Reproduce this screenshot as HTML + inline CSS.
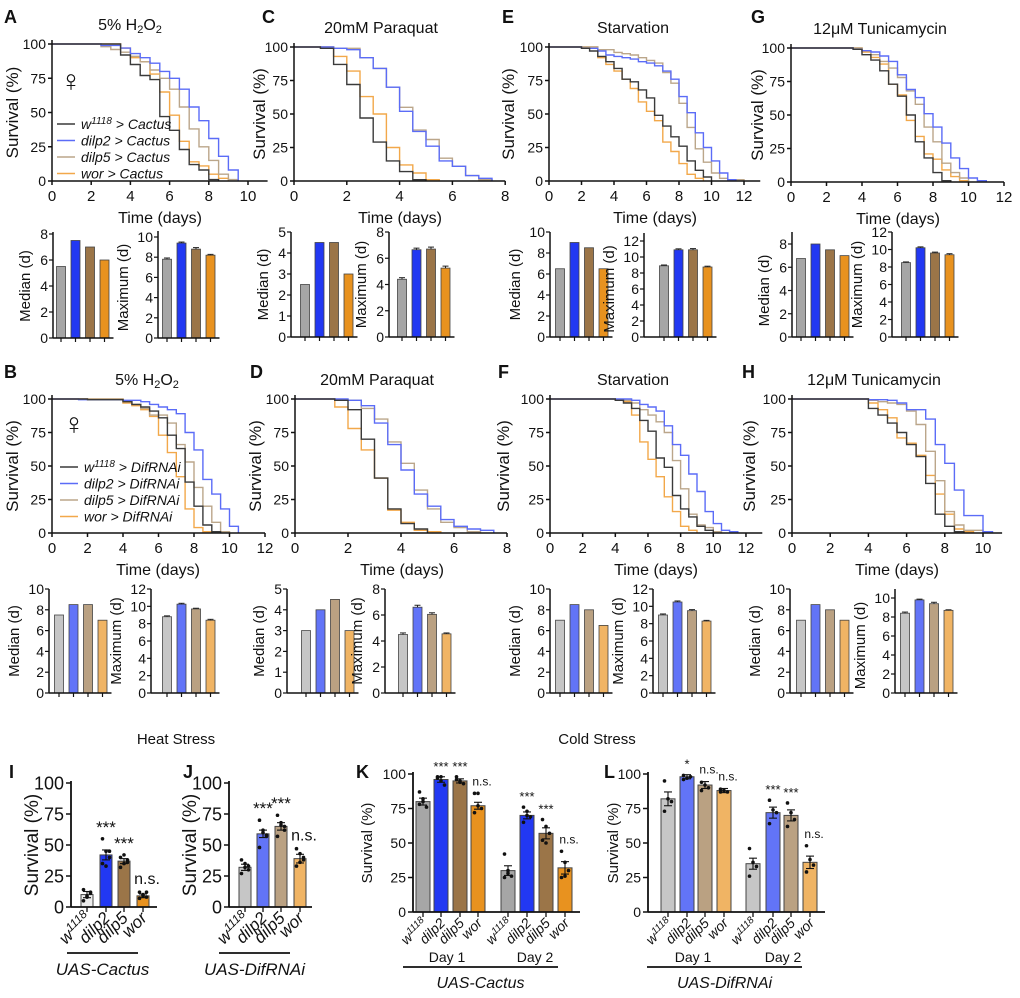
<!DOCTYPE html>
<html><head><meta charset="utf-8"><style>
html,body{margin:0;padding:0;background:#fff;}
svg{display:block;font-family:"Liberation Sans",sans-serif;}
</style></head><body>
<svg id="fig" width="1020" height="998" viewBox="0 0 1020 998" xmlns="http://www.w3.org/2000/svg"></svg>
<script>
// ===== Survival curve data (time in days, survival %) =====
const A_w_t=[0,3.5,4,4.5,5,5.5,6,6.5,7,7.5,8,8.5];
const A_w_s=[100,92,85,77,74,47,37,23,12,8,1,0];
const A_d2_t=[0,2.5,3.5,4,4.5,5,5.5,6,6.5,7,7.5,8,8.5,9,9.5];
const A_d2_s=[100,99,97,93,90,86,80,75,67,54,44,31,18,8,0];
const A_d5_t=[0,2.5,3,3.5,4,4.5,5,5.5,6,6.5,7,7.5,8,8.5,9,9.5];
const A_d5_s=[100,98,96,94,91,87,81,75,67,54,38,25,15,5,1,0];
const A_wo_t=[0,3.5,4,4.5,5,5.5,6,6.5,7,7.5,8,8.5,9];
const A_wo_s=[100,97,90,87,78,65,48,29,14,11,5,2,0];

const C_w_t=[0,1,1.5,2,2.5,3,3.5,4,4.5,5];
const C_w_s=[100,99,87,72,47,29,15,7,1,0];
const C_d2_t=[0,1.5,2,2.5,3,3.5,4,4.5,5,5.5,6,6.5,7,7.5];
const C_d2_s=[100,99,98,92,84,70,52,37,26,15,11,4,2,0];
const C_d5_t=[0,1.5,2.5,3,3.5,4,4.5,5,5.5,6,6.5,7,7.5];
const C_d5_s=[100,99,92,84,70,55,38,31,17,11,4,1,0];
const C_wo_t=[0,1.5,2,2.5,3,3.5,4,4.5,5,5.5];
const C_wo_s=[100,93,82,63,50,25,12,6,1,0];

const E_w_t=[0,2,2.5,3,3.5,4,4.5,5,5.5,6,6.5,7,7.5,8,8.5,9,9.5,10];
const E_w_s=[100,99,97,93,89,84,76,74,68,62,49,41,33,26,15,8,3,0];
const E_d2_t=[0,2,3,3.5,4,4.5,5,5.5,6,6.5,7,7.5,8,8.5,9,9.5,10,10.5,11,11.5];
const E_d2_s=[100,99,97,94,93,92,91,89,88,86,82,76,63,51,36,25,15,6,1,0];
const E_d5_t=[0,3,4,4.5,5,5.5,6,6.5,7,7.5,8,8.5,9,9.5,10,10.5,11,12];
const E_d5_s=[100,98,96,95,94,92,90,88,81,73,58,40,24,14,6,2,1,0];
const E_wo_t=[0,3,3.5,4,4.5,5,5.5,6,6.5,7,7.5,8,8.5,9,9.5];
const E_wo_s=[100,92,87,82,76,69,59,52,45,29,22,13,5,2,0];

const G_w_t=[0,3.5,4,4.5,5,5.5,6,6.5,7,7.5,8,8.5,9];
const G_w_s=[100,99,95,91,83,73,64,50,30,18,7,1,0];
const G_d2_t=[0,3.5,4,4.5,5,5.5,6,6.5,7,7.5,8,8.5,9,9.5,10,10.5,11];
const G_d2_s=[100,99,98,97,94,90,80,69,63,51,41,29,18,10,3,1,0];
const G_d5_t=[0,4,4.5,5,5.5,6,6.5,7,7.5,8,8.5,9,9.5,10];
const G_d5_s=[100,98,95,90,85,78,68,58,41,30,14,7,3,0];
const G_wo_t=[0,4,4.5,5,5.5,6,6.5,7,7.5,8,8.5,9,9.5,10];
const G_wo_s=[100,97,93,88,73,65,46,34,21,17,9,4,1,0];

const B_w_t=[0,2,4,4.5,5,5.5,6,6.5,7,7.5,8,8.5,9,9.5];
const B_w_s=[100,99.5,98,96,94,91,86,73,63,38,20,6,1,0];
const B_d2_t=[0,1.5,4,5,5.5,6,6.5,7,7.5,8,8.5,9,9.5,10,10.5];
const B_d2_s=[100,99.5,99,98,96,94,92,89,75,62,40,29,18,5,0];
const B_d5_t=[0,4,4.5,5,5.5,6,6.5,7,7.5,8,8.5,9,9.5,10];
const B_d5_s=[100,98,96,93,88,88,82,66,53,34,20,8,1,0];
const B_wo_t=[0,4,4.5,5,5.5,6,6.5,7,7.5,8,8.5,9];
const B_wo_s=[100,97,95,92,87,73,60,42,18,4,1,0];

const D_w_t=[0,1.5,2,2.5,3,3.5,4,4.5,5];
const D_w_s=[100,99,92,70,41,18,7,3,0];
const D_d2_t=[0,2,2.5,3,3.5,4,4.5,5,5.5,6,6.5,7,7.5];
const D_d2_s=[100,99,95,82,66,47,29,20,10,5,3,2,0];
const D_d5_t=[0,1.5,2.5,3,3.5,4,4.5,5,5.5,6,6.5,7];
const D_d5_s=[100,99,93,85,68,52,32,18,8,4,1,0];
const D_wo_t=[0,1.5,2,2.5,3,3.5,4,4.5,5,5.5];
const D_wo_s=[100,94,78,62,41,17,8,2,1,0];

const F_w_t=[0,4,4.5,5,5.5,6,6.5,7,7.5,8,8.5,9,9.5,10];
const F_w_s=[100,99,97,93,84,76,56,49,28,18,12,5,2,0];
const F_d2_t=[0,5,5.5,6,6.5,7,7.5,8,8.5,9,9.5,10,10.5,11,11.5];
const F_d2_s=[100,99,96,94,91,80,66,58,44,31,16,7,2,1,0];
const F_d5_t=[0,4,5,5.5,6,6.5,7,7.5,8,8.5,9,9.5,10,10.5];
const F_d5_s=[100,99,97,92,88,83,75,54,33,14,6,4,1,0];
const F_wo_t=[0,4,4.5,5,5.5,6,6.5,7,7.5,8,8.5,9];
const F_wo_s=[100,99,98,88,68,55,42,27,16,5,2,0];

const H_w_t=[0,4,4.5,5,5.5,6,6.5,7,7.5,8,8.5,9];
const H_w_s=[100,93,88,82,75,66,57,37,14,5,1,0];
const H_d2_t=[0,4,5,5.5,6,6.5,7,7.5,8,8.5,9,10,10.5];
const H_d2_s=[100,99.5,99,97,92,92,85,66,52,32,13,1,0];
const H_d5_t=[0,4,4.5,5,5.5,6,6.5,7,7.5,8,8.5,9,10];
const H_d5_s=[100,99,98,97,96,91,81,61,39,16,6,2,0];
const H_wo_t=[0,4,4.5,5,5.5,6,6.5,7,7.5,8,8.5,9,9.5];
const H_wo_s=[100,97,92,86,71,67,58,43,29,14,3,1,0];

// ===== Median / Maximum lifespan bars (days) =====
const A_median=[5.5,7.5,7,6];   const A_max=[7.8,9.4,8.8,8.2];   const A_maxErr=[0.12,0.1,0.15,0.08];
const C_median=[2.5,4.5,4.5,3]; const C_max=[4.4,6.65,6.7,5.25]; const C_maxErr=[0.12,0.12,0.15,0.15];
const E_median=[6.5,9,8.5,6.5]; const E_max=[8.9,10.9,10.9,8.75]; const E_maxErr=[0.1,0.12,0.15,0.1];
const G_median=[6.75,8,7.5,7];  const G_max=[8.5,10.2,9.6,9.4];  const G_maxErr=[0.08,0.1,0.1,0.12];
const B_median=[7.5,8.5,8.5,7]; const B_max=[8.8,10.25,9.7,8.4]; const B_maxErr=[0.1,0.1,0.08,0.1];
const D_median=[3,4,4.5,3];     const D_max=[4.5,6.6,6.05,4.55]; const D_maxErr=[0.12,0.15,0.12,0.07];
const F_median=[7,8.5,8,6.5];   const F_max=[9,10.5,9.5,8.3];    const F_maxErr=[0.12,0.12,0.12,0.08];
const H_median=[7,8.5,8,7];     const H_max=[8.4,9.8,9.4,8.7];   const H_maxErr=[0.12,0.08,0.15,0.06];

// ===== Heat / cold stress =====
const groups=["w1118","dilp2","dilp5","wor"];
const I_vals=[10,42,37,9];   const I_err=[2.5,4,2,1.5];  const I_sig=["","***","***","n.s."];
const I_pts=[[5,9,12,14,8,11],[55,45,40,35,33,45],[40,35,38,32,42,36],[12,10,8,7,9,12]];
const J_vals=[32,59,65,39]; const J_err=[2.5,3,3,3.5]; const J_sig=["","***","***","n.s."];
const J_pts=[[38,35,30,27,32,33],[70,62,58,48,60,57],[74,66,62,57,68,65],[47,43,38,33,36,40]];
const K_day1=[80,96,95,77]; const K_day1_err=[2.5,2,1.5,2.5]; const K_day1_sig=["","***","***","n.s."];
const K_day1_pts=[[87,80,76,78,82],[98,98,92,97,95],[98,95,93,96,94],[86,86,75,72,77]];
const K_day2=[30,70,57,32]; const K_day2_err=[3.5,2.5,4,4.5]; const K_day2_sig=["","***","***","n.s."];
const K_day2_pts=[[42,30,26,25,28],[76,73,69,65,70],[67,62,57,52,50],[44,36,30,25,26]];
const L_day1=[82,98,92,88]; const L_day1_err=[5,1.5,2.5,1.5]; const L_day1_sig=["","*","n.s.","n.s."];
const L_day1_pts=[[95,82,80,73],[99,97,98,96],[94,92,90,88],[89,88,87,87]];
const L_day2=[35,72,70,36]; const L_day2_err=[4,4,4,4.5]; const L_day2_sig=["","***","***","n.s."];
const L_day2_pts=[[46,36,33,26],[81,74,72,64],[79,72,67,62],[48,38,34,29]];

// ===== drawing =====
const NS="http://www.w3.org/2000/svg";
const svg=document.getElementById('fig');
function el(tag,attrs,parent){const e=document.createElementNS(NS,tag);for(const k in attrs)e.setAttribute(k,attrs[k]);(parent||svg).appendChild(e);return e;}
function txt(x,y,s,size,anchor,parent,extra){const t=el('text',Object.assign({x:x,y:y,'font-size':size,'text-anchor':anchor||'middle',fill:'#111'},extra||{}),parent);t.textContent=s;return t;}
function line(x1,y1,x2,y2,parent,w,c){return el('line',{x1:x1,y1:y1,x2:x2,y2:y2,stroke:c||'#111','stroke-width':w||1.5},parent);}

const kmColors=['#3a3a3a','#5b6cf7','#bba68a','#f2a84a'];
const barTop=['#a6a6a6','#2238f2','#9b7548','#e8921f'];
const barBot=['#c6c6c6','#6274f7','#baa182','#f0b464'];

function letter(x,y,s){const t=txt(x,y,s,18,'start',null,{'font-weight':'bold'});}

function km(id,x0,ppd,axisEnd,yTop,yBot,xmaxTick,series,title,titleX,ylabX,timeX){
  const g=el('g',{});
  
  
  const sx=d=>x0+d*ppd, sy=v=>yBot-v/100*(yBot-yTop);
  // curves: draw control last so it sits on top
  [3,2,1,0].forEach(k=>{
    const s=series[k];
    let d='M'+sx(0)+','+sy(100);
    for(let i=1;i<s.t.length;i++){d+=' H'+sx(s.t[i]).toFixed(1)+' V'+sy(s.s[i]).toFixed(1);}
    const p=el('path',{d:d,fill:'none',stroke:kmColors[k],'stroke-width':1.4},g);
    
    
  });
  line(x0,yTop-4,x0,yBot,g); line(x0,yBot,sx(axisEnd),yBot,g);
  for(let v=0;v<=100;v+=25){line(x0-4,sy(v),x0,sy(v),g);txt(x0-6,sy(v)+5,String(v),14,'end',g);}
  for(let d=0;d<=axisEnd;d+=2){if(d>xmaxTick)break;line(sx(d),yBot,sx(d),yBot+4,g);txt(sx(d),yBot+20,String(d),15,'middle',g);}
  const yl=txt(0,0,'Survival (%)',17,'middle',g,{transform:'translate('+(ylabX+3)+','+(yTop+yBot)/2+') rotate(-90)'});
  
  const xl=txt(timeX,yBot+42,'Time (days)',16,'middle',g);
  
  const tt=txt(titleX,yTop-14,'',16,'middle',g);
  
  if(title==='H2O2'){tt.textContent='5% H';const a=el('tspan',{'font-size':11,dy:3},tt);a.textContent='2';const b=el('tspan',{dy:-3},tt);b.textContent='O';const c=el('tspan',{'font-size':11,dy:3},tt);c.textContent='2';}
  else tt.textContent=title;
}

function mini(id,axisX,y0,pxTop,maxTick,step,axisTop,firstOff,vals,errs,colors,label){
  const g=el('g',{});
  
  
  const sy=v=>y0-v/maxTick*(y0-pxTop);
  const sp=14.5,bw=9;
  vals.forEach((v,i)=>{
    const cx=axisX+firstOff+i*sp;
    const r=el('rect',{x:cx-bw/2,y:sy(v),width:bw,height:y0-sy(v),fill:colors[i],stroke:'#444','stroke-width':0.8},g);
    
    
    if(errs){line(cx,sy(v+errs[i]),cx,sy(v),g,1,'#222');line(cx-3,sy(v+errs[i]),cx+3,sy(v+errs[i]),g,1,'#222');}
    line(cx,y0,cx,y0+4,g,1.2);
  });
  const endX=axisX+firstOff+3*sp+9;
  line(axisX,axisTop,axisX,y0,g,1.5); line(axisX,y0,endX,y0,g,1.5);
  for(let v=0;v<=maxTick;v+=step){line(axisX-4,sy(v),axisX,sy(v),g,1.2);txt(axisX-5,sy(v)+5,String(v),14,'end',g);}
  const off=String(maxTick).length>1?30:23;
  const yl=txt(0,0,label,15,'middle',g,{transform:'translate('+(axisX-off)+','+(y0+pxTop)/2+') rotate(-90)'});
  
}

function genoLabel(cx,y,name,size,g){
  const t=el('text',{'font-size':size,'text-anchor':'end','font-style':'italic',fill:'#111',transform:'translate('+(cx+5)+','+(y)+') rotate(-45)'},g);
  if(name==='w1118'){t.textContent='w';const s=el('tspan',{'font-size':size*0.7,dy:-size*0.35},t);s.textContent='1118';}
  else t.textContent=name;
  
  
}

function stress(id,axisX,axisEnd,yTop,yBot,centers,vals,errs,pts,sigs,colors,bw,tickSize,labSize,ylabX){
  const g=el('g',{});
  
  
  const sy=v=>yBot-v/100*(yBot-yTop);
  vals.forEach((v,i)=>{
    const cx=centers[i];
    const r=el('rect',{x:cx-bw/2,y:sy(v),width:bw,height:yBot-sy(v),fill:colors[i],stroke:'#444','stroke-width':1},g);
    
    
    pts[i].forEach((p,j)=>{const c=el('circle',{cx:cx+((j%3)-1)*3.5,cy:sy(p),r:1.8,fill:'#111'},g);});
    line(cx,sy(v+errs[i]),cx,sy(v-errs[i]),g,1.1);
    line(cx-4,sy(v+errs[i]),cx+4,sy(v+errs[i]),g,1.1);
    line(cx-4,sy(v-errs[i]),cx+4,sy(v-errs[i]),g,1.1);
    line(cx,yBot,cx,yBot+5,g,1.3);
    if(sigs[i]){const top=Math.max(v+errs[i],Math.max(...pts[i]));
      const s=sigs[i]==='n.s.'?txt(cx+4,sy(top)-8,'n.s.',tickSize-2,'middle',g):txt(cx,sy(top)-6,sigs[i],tickSize-1,'middle',g);
      }
    genoLabel(cx,yBot+12,groups[i%4],labSize,g);
  });
  line(axisX,yTop-2,axisX,yBot,g,1.8); line(axisX,yBot,axisEnd,yBot,g,1.8);
  for(let v=0;v<=100;v+=25){line(axisX-5,sy(v),axisX,sy(v),g,1.5);txt(axisX-7,sy(v)+tickSize*0.36,String(v),tickSize,'end',g);}
  const yl=txt(0,0,'Survival (%)',tickSize+1,'middle',g,{transform:'translate('+ylabX+','+(yTop+yBot)/2+') rotate(-90)'});
  
}

// Letters
letter(4,23,'A');letter(262,23,'C');letter(502,23,'E');letter(751,23,'G');
letter(4,378,'B');letter(250,378,'D');letter(498,378,'F');letter(742,378,'H');
letter(9,778,'I');letter(183,778,'J');letter(356,778,'K');letter(604,778,'L');

// KM panels
km('a',52,19.6,11,44,181,10,[{t:A_w_t,s:A_w_s},{t:A_d2_t,s:A_d2_s},{t:A_d5_t,s:A_d5_s},{t:A_wo_t,s:A_wo_s}],'H2O2',130,15,160);
km('c',294,26.4,8,47,181,8,[{t:C_w_t,s:C_w_s},{t:C_d2_t,s:C_d2_s},{t:C_d5_t,s:C_d5_s},{t:C_wo_t,s:C_wo_s}],'20mM Paraquat',381,262,400);
km('e',549,16.25,13,47,181,12,[{t:E_w_t,s:E_w_s},{t:E_d2_t,s:E_d2_s},{t:E_d5_t,s:E_d5_s},{t:E_wo_t,s:E_wo_s}],'Starvation',633,511,655);
km('g',791,17.75,12,48,182,12,[{t:G_w_t,s:G_w_s},{t:G_d2_t,s:G_d2_s},{t:G_d5_t,s:G_d5_s},{t:G_wo_t,s:G_wo_s}],'12μM Tunicamycin',880,760,898);
km('b',52,17.75,12,399,533,12,[{t:B_w_t,s:B_w_s},{t:B_d2_t,s:B_d2_s},{t:B_d5_t,s:B_d5_s},{t:B_wo_t,s:B_wo_s}],'H2O2',147,15,158);
km('d',295,26.5,8,399,533,8,[{t:D_w_t,s:D_w_s},{t:D_d2_t,s:D_d2_s},{t:D_d5_t,s:D_d5_s},{t:D_wo_t,s:D_wo_s}],'20mM Paraquat',377,258,402);
km('f',550,16.33,13,399,533,12,[{t:F_w_t,s:F_w_s},{t:F_d2_t,s:F_d2_s},{t:F_d5_t,s:F_d5_s},{t:F_wo_t,s:F_wo_s}],'Starvation',633,506,656);
km('h',792,19.1,11,399,533,10,[{t:H_w_t,s:H_w_s},{t:H_d2_t,s:H_d2_s},{t:H_d5_t,s:H_d5_s},{t:H_wo_t,s:H_wo_s}],'12μM Tunicamycin',874,752,897);

// Legends
function legend(x,y,suffix,id){
  const g=el('g',{});
  
  
  const sym=txt(x+14,y-38,'♀',30,'middle',g);
  groups.forEach((n,i)=>{
    const yy=y+i*16.5;
    line(x,yy-5,x+18,yy-5,g,1.4,kmColors[i]);
    const t=el('text',{x:x+24,y:yy,'font-size':14,'font-style':'italic',fill:'#111'},g);
    if(n==='w1118'){t.textContent='w';const s=el('tspan',{'font-size':10,dy:-5},t);s.textContent='1118';const r=el('tspan',{dy:5},t);r.textContent=' > '+suffix;}
    else t.textContent=n+' > '+suffix;
    
    
  });
}
legend(57,129,'Cactus','a');
legend(60,472,'DifRNAi','b');

// Mini bar plots
mini('a-median',53,338,234,8,2,232,8,A_median,null,barTop,'Median (d)');
mini('a-max',158,338,237,10,2,231,9,A_max,A_maxErr,barTop,'Maximum (d)');
mini('c-median',291,337,232,5,1,232,14,C_median,null,barTop,'Median (d)');
mini('c-max',389,337,232,8,2,232,13,C_max,C_maxErr,barTop,'Maximum (d)');
mini('e-median',550,337,232,10,2,232,10,E_median,null,barTop,'Median (d)');
mini('e-max',644,337,241,12,2,233,20,E_max,E_maxErr,barTop,'Maximum (d)');
mini('g-median',792,337,244,8,2,232,9,G_median,null,barTop,'Median (d)');
mini('g-max',892,337,232,12,2,232,14,G_max,G_maxErr,barTop,'Maximum (d)');
mini('b-median',49,693,589,10,2,589,10,B_median,null,barBot,'Median (d)');
mini('b-max',151,693,589,12,2,589,16,B_max,B_maxErr,barBot,'Maximum (d)');
mini('d-median',287,693,589,5,1,589,19,D_median,null,barBot,'Median (d)');
mini('d-max',385,693,589,8,2,589,18,D_max,D_maxErr,barBot,'Maximum (d)');
mini('f-median',550,693,589,10,2,589,10,F_median,null,barBot,'Median (d)');
mini('f-max',653,693,589,12,2,589,10,F_max,F_maxErr,barBot,'Maximum (d)');
mini('h-median',790,693,589,10,2,589,11,H_median,null,barBot,'Median (d)');
mini('h-max',895,693,598,10,2,589,10,H_max,H_maxErr,barBot,'Maximum (d)');

// Section titles
const ht=txt(176,744,'Heat Stress',15,'middle');


const ct=txt(597,744,'Cold Stress',15,'middle');



// Heat stress
stress('i',71,157,783,907,[87,106,124,143],I_vals,I_err,I_pts,I_sig,['#ececec',barTop[1],barTop[2],barTop[3]],12,18,17,38);
stress('j',229,312,783,907,[245,263,281,300],J_vals,J_err,J_pts,J_sig,barBot,12,18,17,196);
// Cold stress
stress('k',413,580,774,912,[423,441,460,478,508,527,546,565],K_day1.concat(K_day2),K_day1_err.concat(K_day2_err),K_day1_pts.concat(K_day2_pts),K_day1_sig.concat(K_day2_sig),barTop.concat(barTop),14,14,14,372);
stress('l',648,825,774,912,[668,687,705,724,753,773,791,810],L_day1.concat(L_day2),L_day1_err.concat(L_day2_err),L_day1_pts.concat(L_day2_pts),L_day1_sig.concat(L_day2_sig),barBot.concat(barBot),14,14,14,618);

// Group underlines & captions
function caption(x1,x2,y,s,size){line(x1,y,x2,y,null,1.8);const t=txt((x1+x2)/2,y+size+5,s,size,'middle',null,{'font-style':'italic'});}
caption(67,138,953,'UAS-Cactus',17);
caption(219,290,953,'UAS-DifRNAi',17);
caption(403,558,967,'UAS-Cactus',16);
caption(647,802,967,'UAS-DifRNAi',16);
[[447,'Day 1'],[535,'Day 2'],[693,'Day 1'],[783,'Day 2']].forEach(d=>{const t=txt(d[0],962,d[1],14,'middle');});
</script>
</body></html>
